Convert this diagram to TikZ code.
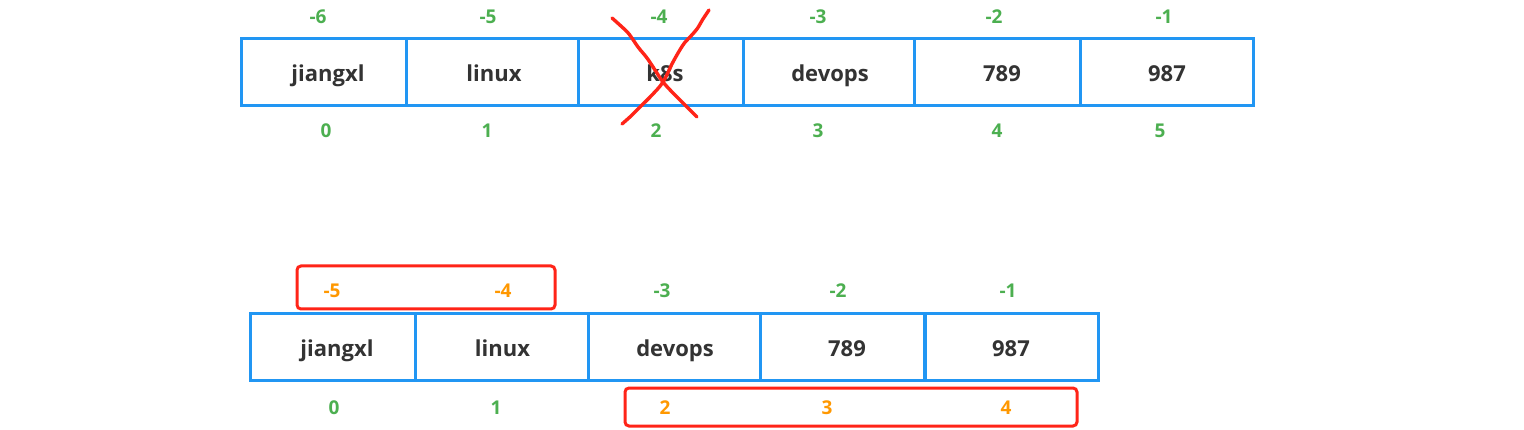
\documentclass[tikz,border=0pt]{standalone}
\usepackage{fontspec}
\setmainfont{Open Sans}
\definecolor{cellblue}{RGB}{33,150,243}
\definecolor{idxgreen}{RGB}{76,175,80}
\definecolor{idxorange}{RGB}{255,152,0}
\definecolor{markred}{RGB}{255,36,24}
\definecolor{txtdark}{RGB}{51,51,51}
\tikzset{
  cell/.style={draw=cellblue, line width=3pt, rectangle, inner sep=0pt, minimum height=67pt},
  val/.style={text=txtdark, font=\fontsize{22}{26}\selectfont\bfseries, inner sep=0pt, anchor=base},
  gidx/.style={text=idxgreen, font=\fontsize{19}{22}\selectfont\bfseries, inner sep=0pt, anchor=base},
  oidx/.style={text=idxorange, font=\fontsize{19}{22}\selectfont\bfseries, inner sep=0pt, anchor=base},
  redbox/.style={draw=markred, line width=3pt, rounded corners=4pt},
  cross/.style={draw=markred, line width=3.4pt, line cap=round, line join=round}
}
\begin{document}
\begin{tikzpicture}[x=1pt,y=-1pt]
\useasboundingbox[fill=white] (0,0) rectangle (1524,430);
% top row cells
\node[cell, minimum width=165pt] (t0) at (323.5,72.5) {};
\node[cell, minimum width=172pt] (t1) at (492,72.5) {};
\node[cell, minimum width=165pt] (t2) at (660.5,72.5) {};
\node[cell, minimum width=171pt] (t3) at (828.5,72.5) {};
\node[cell, minimum width=166pt] (t4) at (997,72.5) {};
\node[cell, minimum width=173pt] (t5) at (1166.5,72.5) {};
\node[val] (tv0) at (328,82) {jiangxl};
\node[val] (tv1) at (494,82) {linux};
\node[val] (tv2) at (665,82) {k8s};
\node[val] (tv3) at (830,82) {devops};
\node[val] (tv4) at (1002,82) {789};
\node[val] (tv5) at (1167,82) {987};
\node[gidx] (tn0) at (318,23.5) {-6};
\node[gidx] (tn1) at (488,23.5) {-5};
\node[gidx] (tn2) at (659,23.5) {-4};
\node[gidx] (tn3) at (818,23.5) {-3};
\node[gidx] (tn4) at (994,23.5) {-2};
\node[gidx] (tn5) at (1164,23.5) {-1};
\node[gidx] (tp0) at (326,138) {0};
\node[gidx] (tp1) at (487,138) {1};
\node[gidx] (tp2) at (656,138) {2};
\node[gidx] (tp3) at (818,138) {3};
\node[gidx] (tp4) at (997,138) {4};
\node[gidx] (tp5) at (1160,138) {5};
% red cross over k8s
\draw[cross] plot[smooth, tension=0.6] coordinates {(612,18) (622,27) (629,34) (638,47) (647,58) (655,70) (663,82) (673,93) (683,103) (697,117)};
\draw[cross] plot[smooth, tension=0.6] coordinates {(709,10) (703,19) (697,29) (690,37) (683,45) (673,62) (663,82) (652,95) (640,107) (631,116) (622,124)};
% bottom row cells
\node[cell, minimum width=165pt] (b0) at (332.5,347.5) {};
\node[cell, minimum width=173pt] (b1) at (502,347.5) {};
\node[cell, minimum width=172pt] (b2) at (674.5,347.5) {};
\node[cell, minimum width=164pt] (b3) at (842.5,347.5) {};
\node[cell, minimum width=173pt] (b4) at (1011.5,347.5) {};
\node[val] (bv0) at (337,357) {jiangxl};
\node[val] (bv1) at (502.5,357) {linux};
\node[val] (bv2) at (675,357) {devops};
\node[val] (bv3) at (847,357) {789};
\node[val] (bv4) at (1011,357) {987};
\node[oidx] (bn0) at (332,298) {-5};
\node[oidx] (bn1) at (503,298) {-4};
\node[gidx] (bn2) at (662,298) {-3};
\node[gidx] (bn3) at (838,298) {-2};
\node[gidx] (bn4) at (1008,298) {-1};
\node[gidx] (bp0) at (334,414) {0};
\node[gidx] (bp1) at (496,414) {1};
\node[oidx] (bp2) at (665,414) {2};
\node[oidx] (bp3) at (827,414) {3};
\node[oidx] (bp4) at (1006,414) {4};
% red highlight boxes
\draw[redbox] (297,266) rectangle (555,309);
\draw[redbox] (625,388) rectangle (1077,426);
\end{tikzpicture}
\end{document}
